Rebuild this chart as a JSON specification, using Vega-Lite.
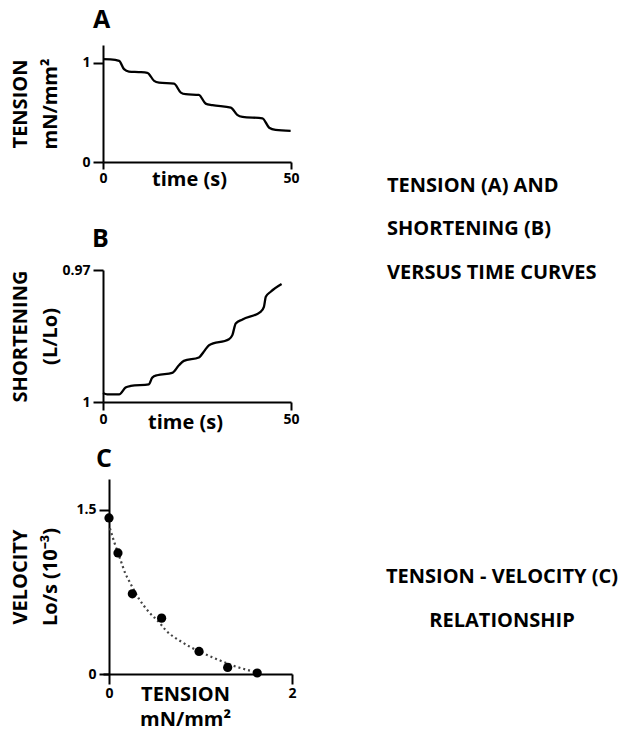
{
  "$schema": "https://vega.github.io/schema/vega-lite/v6.json",
  "background": "white",
  "padding": {"left": 10, "top": 8, "right": 5, "bottom": 5},
  "config": {
    "view": {"stroke": null},
    "font": "Open Sans",
    "title": {"font": "Open Sans", "fontWeight": "bold", "color": "black", "fontSize": 25},
    "axis": {
      "grid": false,
      "domainColor": "black", "domainWidth": 2,
      "tickColor": "black", "tickWidth": 2, "tickSize": 8,
      "labelFont": "Open Sans", "labelFontWeight": "bold", "labelFontSize": 14, "labelColor": "black",
      "labelPadding": 2, "labelFlush": false,
      "titleFont": "Open Sans", "titleFontWeight": "bold", "titleFontSize": 20, "titleColor": "black"
    },
    "axisY": {"tickSize": 10, "labelPadding": 3, "minExtent": 37, "maxExtent": 37, "titlePadding": 6, "titleLineHeight": 30}
  },
  "datasets": {
    "tension": [
      {"time": 0, "tension": 1.037}, {"time": 2, "tension": 1.035}, {"time": 4.3, "tension": 1.02},
      {"time": 5.6, "tension": 0.936}, {"time": 6.9, "tension": 0.912}, {"time": 9.5, "tension": 0.907},
      {"time": 11.8, "tension": 0.9}, {"time": 13.6, "tension": 0.818}, {"time": 14.9, "tension": 0.801},
      {"time": 18.9, "tension": 0.791}, {"time": 20.7, "tension": 0.7}, {"time": 22.0, "tension": 0.684},
      {"time": 25.5, "tension": 0.677}, {"time": 27.3, "tension": 0.589}, {"time": 29.1, "tension": 0.573},
      {"time": 34.0, "tension": 0.548}, {"time": 35.7, "tension": 0.475}, {"time": 37.1, "tension": 0.455},
      {"time": 42.4, "tension": 0.441}, {"time": 44.2, "tension": 0.346}, {"time": 45.9, "tension": 0.323},
      {"time": 49.9, "tension": 0.313}
    ],
    "shortening": [
      {"time": 0, "ratio": 0.99795}, {"time": 1.1, "ratio": 0.99825}, {"time": 4.3, "ratio": 0.99825},
      {"time": 6.0, "ratio": 0.99672}, {"time": 7.4, "ratio": 0.99636}, {"time": 12.2, "ratio": 0.99597},
      {"time": 13.1, "ratio": 0.99444}, {"time": 14.4, "ratio": 0.99392}, {"time": 18.4, "ratio": 0.9934},
      {"time": 20.2, "ratio": 0.99164}, {"time": 21.5, "ratio": 0.99066}, {"time": 25.5, "ratio": 0.98988},
      {"time": 27.1, "ratio": 0.98822}, {"time": 28.2, "ratio": 0.9871}, {"time": 33.5, "ratio": 0.98572},
      {"time": 34.4, "ratio": 0.98481}, {"time": 35.3, "ratio": 0.98214}, {"time": 37.1, "ratio": 0.98123},
      {"time": 41.9, "ratio": 0.9795}, {"time": 42.8, "ratio": 0.97836}, {"time": 43.3, "ratio": 0.97609},
      {"time": 44.6, "ratio": 0.97494}, {"time": 47.5, "ratio": 0.97318}
    ],
    "velPoints": [
      {"tension": 0, "velocity": 1.425}, {"tension": 0.098, "velocity": 1.105}, {"tension": 0.255, "velocity": 0.732},
      {"tension": 0.575, "velocity": 0.51}, {"tension": 0.984, "velocity": 0.206}, {"tension": 1.297, "velocity": 0.06},
      {"tension": 1.62, "velocity": 0.009}
    ],
    "velFit": [
      {"tension": 0.01, "velocity": 1.33}, {"tension": 0.055, "velocity": 1.21}, {"tension": 0.128, "velocity": 1.035},
      {"tension": 0.18, "velocity": 0.915}, {"tension": 0.226, "velocity": 0.84}, {"tension": 0.328, "velocity": 0.686},
      {"tension": 0.437, "velocity": 0.565}, {"tension": 0.546, "velocity": 0.474}, {"tension": 0.62, "velocity": 0.4},
      {"tension": 0.8, "velocity": 0.29}, {"tension": 0.984, "velocity": 0.206}, {"tension": 1.166, "velocity": 0.14},
      {"tension": 1.35, "velocity": 0.078}, {"tension": 1.53, "velocity": 0.033}, {"tension": 1.64, "velocity": 0.009}
    ],
    "notes": [
      {"label": "TENSION (A) AND", "line": 1, "block": "time"},
      {"label": "\u00a0SHORTENING (B)", "line": 2, "block": "time"},
      {"label": "VERSUS TIME CURVES", "line": 3, "block": "time"},
      {"label": "TENSION - VELOCITY (C)", "line": 10, "block": "velocity"},
      {"label": "RELATIONSHIP", "line": 11, "block": "velocity"}
    ]
  },
  "spacing": 85,
  "hconcat": [
    {
      "spacing": 15,
      "vconcat": [
        {
          "title": {"text": "A", "anchor": "start", "frame": "group", "dx": -10, "offset": 12},
          "width": 188, "height": 117,
          "data": {"name": "tension"},
          "mark": {"type": "line", "interpolate": "monotone", "color": "black", "strokeWidth": 2.3},
          "encoding": {
            "x": {"field": "time", "type": "quantitative", "scale": {"domain": [0, 50], "nice": false},
                  "axis": {"values": [0, 50], "format": "d", "title": ["time (s)", ""], "titleLineHeight": 23, "titleX": 86, "titlePadding": -16, "tickSize": 7}},
            "y": {"field": "tension", "type": "quantitative", "scale": {"domain": [0, 1.18], "nice": false, "zero": false},
                  "axis": {"values": [0, 1], "format": "d", "title": ["TENSION", "mN/mm²"]}}
          }
        },
        {
          "title": {"text": "B", "anchor": "start", "frame": "group", "dx": -11, "offset": 11},
          "width": 188, "height": 132,
          "data": {"name": "shortening"},
          "mark": {"type": "line", "interpolate": "monotone", "color": "black", "strokeWidth": 2.3},
          "encoding": {
            "x": {"field": "time", "type": "quantitative", "scale": {"domain": [0, 50], "nice": false},
                  "axis": {"values": [0, 50], "format": "d", "title": "time (s)", "titleX": 82, "titlePadding": -14, "tickSize": 8}},
            "y": {"field": "ratio", "type": "quantitative", "scale": {"domain": [0.97, 1], "reverse": true, "nice": false, "zero": false},
                  "axis": {"values": [1, 0.97], "format": ".2~f", "title": ["SHORTENING", "(L/Lo)"]}}
          }
        },
        {
          "title": {"text": "C", "anchor": "start", "frame": "group", "dx": -7, "offset": 7},
          "width": 189, "height": 195,
          "encoding": {
            "x": {"field": "tension", "type": "quantitative", "scale": {"domain": [-0.0656, 2], "nice": false, "zero": false},
                  "axis": {"values": [0, 2], "format": "d", "title": ["TENSION", "mN/mm²"], "titleLineHeight": 25, "titleX": 82, "titlePadding": -16, "tickSize": 10}},
            "y": {"field": "velocity", "type": "quantitative", "scale": {"domain": [0, 1.78], "nice": false, "zero": false},
                  "axis": {"values": [0, 1.5], "format": ".1~f", "offset": -6, "title": ["VELOCITY", "Lo/s (10⁻³)"], "titlePadding": 12}}
          },
          "layer": [
            {
              "data": {"name": "velFit"},
              "mark": {"type": "line", "interpolate": "monotone", "color": "#444", "strokeWidth": 2.2, "strokeDash": [2, 3]}
            },
            {
              "data": {"name": "velPoints"},
              "mark": {"type": "circle", "color": "black", "opacity": 1, "size": 85}
            }
          ]
        }
      ]
    },
    {
      "width": 230, "height": 600,
      "view": {"stroke": "transparent"},
      "data": {"name": "notes"},
      "encoding": {
        "y": {"field": "line", "type": "quantitative", "scale": {"domain": [-2.241, 11.552], "reverse": true, "nice": false, "zero": false}, "axis": null},
        "text": {"field": "label"}
      },
      "layer": [
        {
          "transform": [{"filter": "datum.block == 'time'"}],
          "mark": {"type": "text", "align": "left", "baseline": "middle", "fontSize": 20, "fontWeight": "bold", "font": "Open Sans", "color": "black"},
          "encoding": {"x": {"datum": 0, "type": "quantitative", "scale": {"domain": [0, 1], "nice": false}, "axis": null}}
        },
        {
          "transform": [{"filter": "datum.block == 'velocity'"}],
          "mark": {"type": "text", "align": "center", "baseline": "middle", "fontSize": 20, "fontWeight": "bold", "font": "Open Sans", "color": "black"},
          "encoding": {"x": {"datum": 0.5, "type": "quantitative", "scale": {"domain": [0, 1], "nice": false}, "axis": null}}
        }
      ]
    }
  ]
}
